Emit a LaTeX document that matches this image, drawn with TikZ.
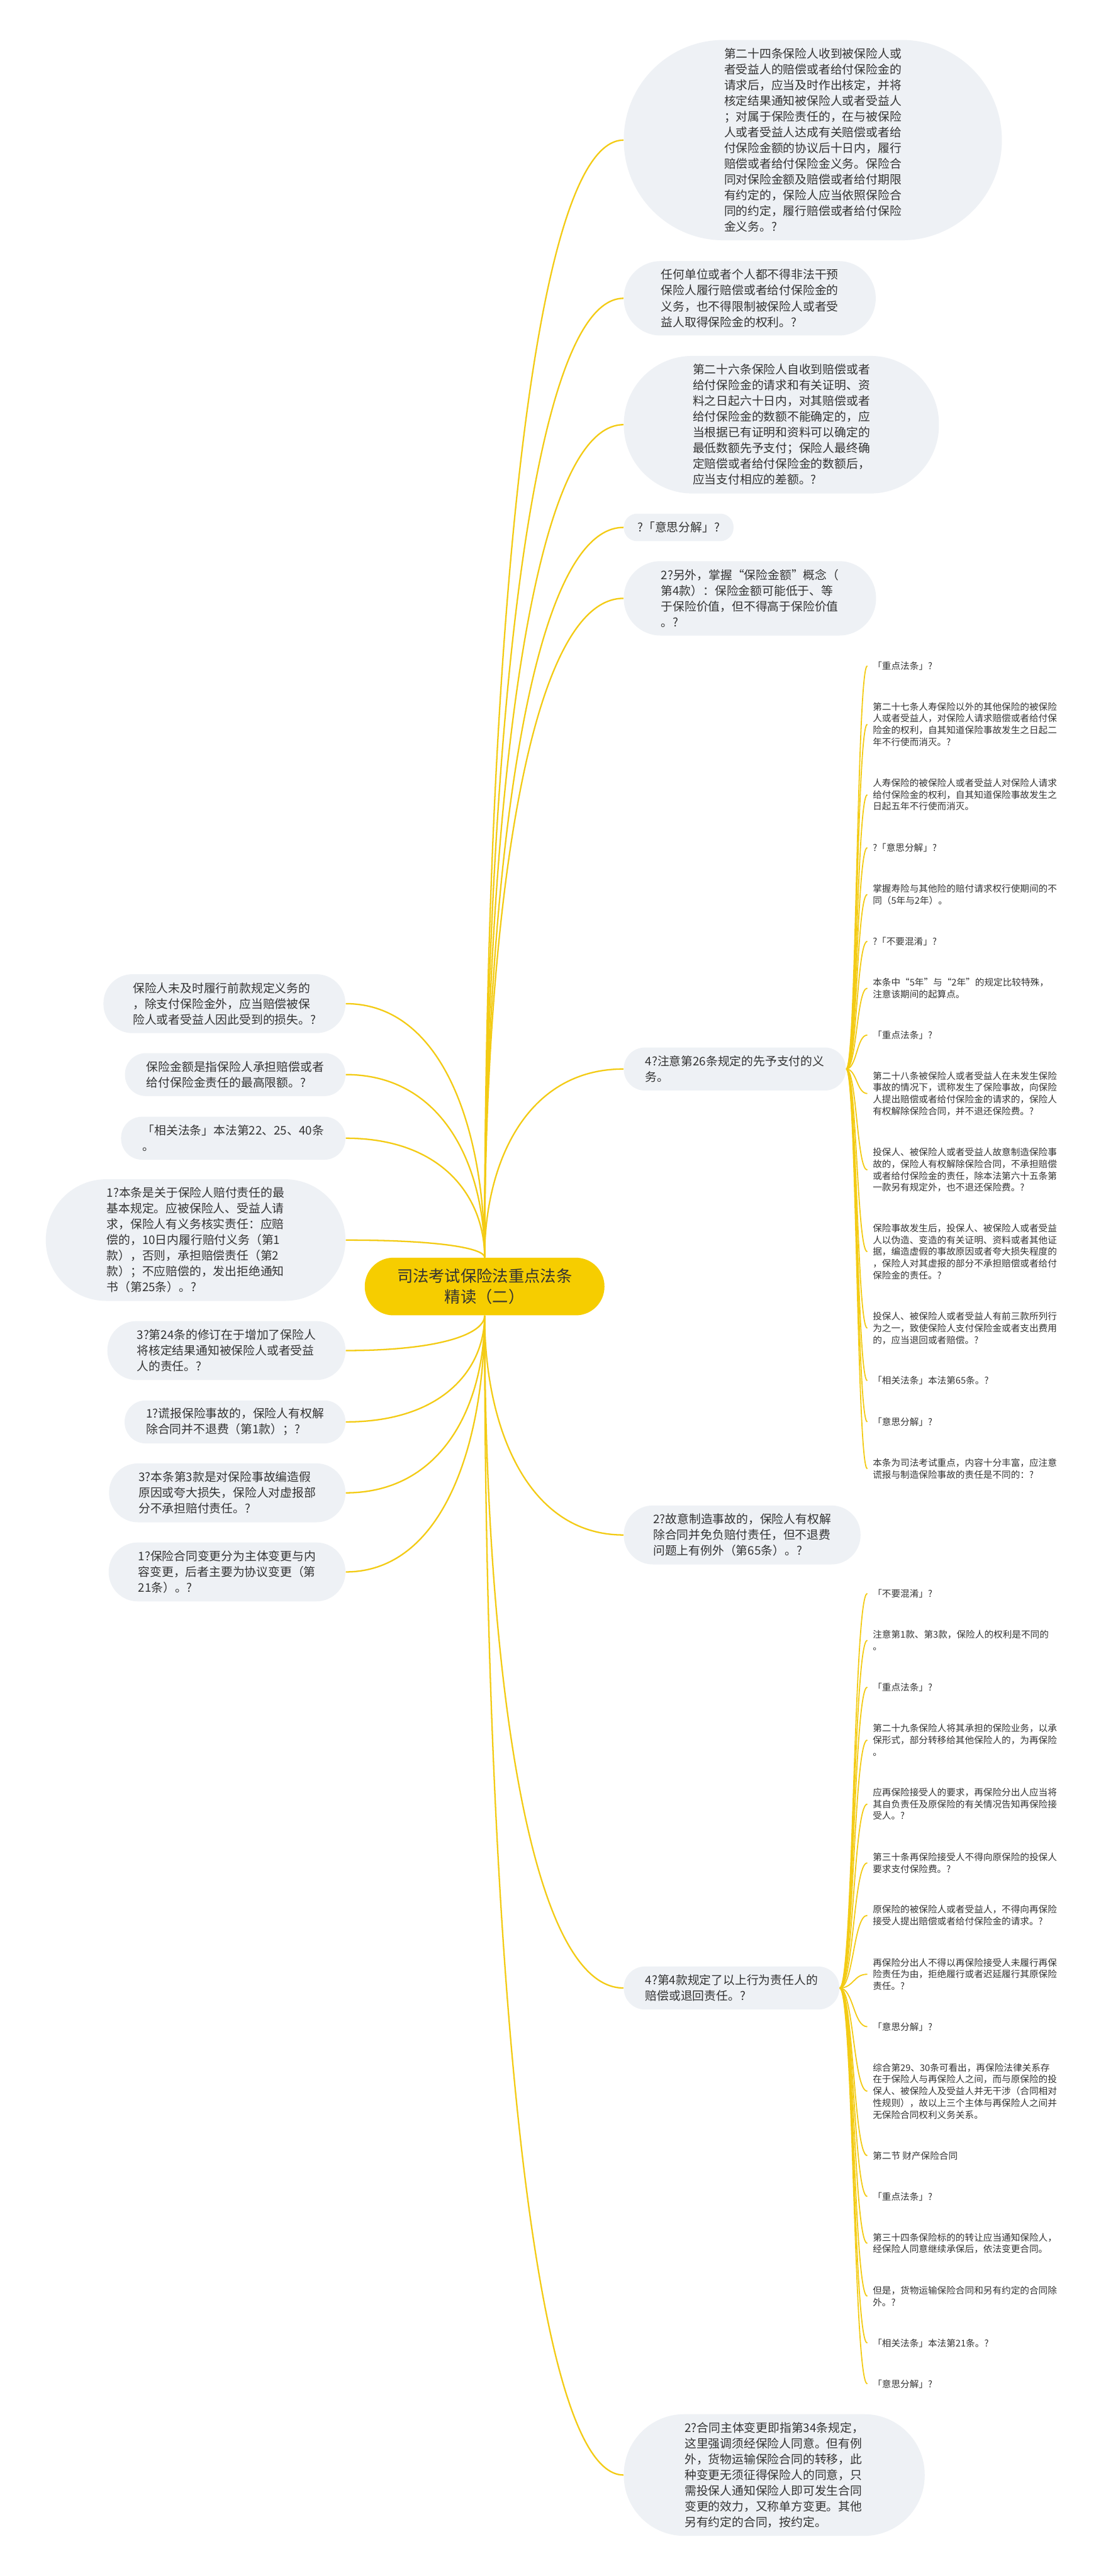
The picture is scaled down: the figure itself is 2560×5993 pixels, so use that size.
\documentclass[tikz,border=0pt]{standalone}
\usepackage{fontspec}
\setmainfont{Noto Sans CJK SC}
\usetikzlibrary{calc,backgrounds}
\definecolor{boxfill}{HTML}{EEF1F5}
\definecolor{mainyellow}{HTML}{F6CD00}
\definecolor{lineyellow}{HTML}{F3CB14}
\definecolor{txt}{HTML}{333333}
\tikzset{
  bigbox/.style={fill=boxfill, draw=none, align=left, text=txt, inner ysep=0pt,
    inner xsep=#1*0.005cm, minimum height=#1*0.01cm, rounded corners=#1*0.005cm-0.3pt,
    font=\fontsize{7.82pt}{10.41pt}\selectfont},
  rbox/.style={bigbox=#1, anchor=west},
  lbox/.style={bigbox=#1, anchor=east},
  centrebox/.style={fill=mainyellow, draw=none, align=center, text=txt, inner ysep=0pt,
    inner xsep=0.75cm, minimum height=1.34cm, rounded corners=0.665cm,
    font=\fontsize{10.53pt}{13.94pt}\selectfont},
  smalltext/.style={align=left, text=txt, inner xsep=0.12cm, inner ysep=0pt, anchor=west,
    font=\fontsize{6.09pt}{7.77pt}\selectfont},
  mline/.style={draw=lineyellow, line width=0.95pt},
  sline/.style={draw=lineyellow, line width=0.75pt}
}
\newcommand\mconn[2]{\draw[mline] (#1) .. controls ($(#1)!0.5!(#1 |- #2)$) and ($(#2)!0.7!(#2 -| #1)$) .. (#2);}
\newcommand\sconn[2]{\draw[sline] (#1.east) .. controls ($(#1.east)!0.5!(#1.east -| #2.west)$) and ($(#2.west)!0.5!(#2.west -| #1.east)$) .. (#2.west);}
\begin{document}
\begin{tikzpicture}[x=0.01cm,y=-0.01cm]
\useasboundingbox (0,0) rectangle (2560,5993);

% centre
\node[centrebox] (c) at (1127,2993) {司法考试保险法重点法条\\精读（二）};

% right level 1
\node[rbox=466] (r1) at (1450,326) {第二十四条保险人收到被保险人或\\者受益人的赔偿或者给付保险金的\\请求后，应当及时作出核定，并将\\核定结果通知被保险人或者受益人\\；对属于保险责任的，在与被保险\\人或者受益人达成有关赔偿或者给\\付保险金额的协议后十日内，履行\\赔偿或者给付保险金义务。保险合\\同对保险金额及赔偿或者给付期限\\有约定的，保险人应当依照保险合\\同的约定，履行赔偿或者给付保险\\金义务。?};
\node[rbox=173] (r2) at (1450,694) {任何单位或者个人都不得非法干预\\保险人履行赔偿或者给付保险金的\\义务，也不得限制被保险人或者受\\益人取得保险金的权利。?};
\node[rbox=320] (r3) at (1450,988) {第二十六条保险人自收到赔偿或者\\给付保险金的请求和有关证明、资\\料之日起六十日内，对其赔偿或者\\给付保险金的数额不能确定的，应\\当根据已有证明和资料可以确定的\\最低数额先予支付；保险人最终确\\定赔偿或者给付保险金的数额后，\\应当支付相应的差额。?};
\node[rbox=64] (r4) at (1450,1227) {?「意思分解」?};
\node[rbox=173] (r5) at (1450,1392) {2?另外，掌握“保险金额”概念（\\第4款）：保险金额可能低于、等\\于保险价值，但不得高于保险价值\\。?};
\node[rbox=100] (r6) at (1450,2487) {4?注意第26条规定的先予支付的义\\务。};
\node[rbox=137] (r7) at (1450,3571) {2?故意制造事故的，保险人有权解\\除合同并免负赔付责任，但不退费\\问题上有例外（第65条）。?};
\node[rbox=100] (r8) at (1450,4625) {4?第4款规定了以上行为责任人的\\赔偿或退回责任。?};
\node[rbox=283] (r9) at (1450,5758) {2?合同主体变更即指第34条规定，\\这里强调须经保险人同意。但有例\\外，货物运输保险合同的转移，此\\种变更无须征得保险人的同意，只\\需投保人通知保险人即可发生合同\\变更的效力，又称单方变更。其他\\另有约定的合同，按约定。};

% left level 1
\node[lbox=137] (l1) at (804,2335) {保险人未及时履行前款规定义务的\\，除支付保险金外，应当赔偿被保\\险人或者受益人因此受到的损失。?};
\node[lbox=100] (l2) at (804,2500) {保险金额是指保险人承担赔偿或者\\给付保险金责任的最高限额。?};
\node[lbox=100] (l3) at (804,2648) {「相关法条」本法第22、25、40条\\。};
\node[lbox=283] (l4) at (804,2885) {1?本条是关于保险人赔付责任的最\\基本规定。应被保险人、受益人请\\求，保险人有义务核实责任：应赔\\偿的，10日内履行赔付义务（第1\\款），否则，承担赔偿责任（第2\\款）；不应赔偿的，发出拒绝通知\\书（第25条）。?};
\node[lbox=137] (l5) at (804,3142) {3?第24条的修订在于增加了保险人\\将核定结果通知被保险人或者受益\\人的责任。?};
\node[lbox=100] (l6) at (804,3308) {1?谎报保险事故的，保险人有权解\\除合同并不退费（第1款）；?};
\node[lbox=137] (l7) at (804,3473) {3?本条第3款是对保险事故编造假\\原因或夸大损失，保险人对虚报部\\分不承担赔付责任。?};
\node[lbox=137] (l8) at (804,3657) {1?保险合同变更分为主体变更与内\\容变更，后者主要为协议变更（第\\21条）。?};

% children of r6
\node[smalltext] (s1) at (2017,1549) {「重点法条」?};
\node[smalltext] (s2) at (2017,1685) {第二十七条人寿保险以外的其他保险的被保险\\人或者受益人，对保险人请求赔偿或者给付保\\险金的权利，自其知道保险事故发生之日起二\\年不行使而消灭。?};
\node[smalltext] (s3) at (2017,1849) {人寿保险的被保险人或者受益人对保险人请求\\给付保险金的权利，自其知道保险事故发生之\\日起五年不行使而消灭。};
\node[smalltext] (s4) at (2017,1972) {?「意思分解」?};
\node[smalltext] (s5) at (2017,2081) {掌握寿险与其他险的赔付请求权行使期间的不\\同（5年与2年）。};
\node[smalltext] (s6) at (2017,2190) {?「不要混淆」?};
\node[smalltext] (s7) at (2017,2299) {本条中“5年”与“2年”的规定比较特殊，\\注意该期间的起算点。};
\node[smalltext] (s8) at (2017,2408) {「重点法条」?};
\node[smalltext] (s9) at (2017,2544) {第二十八条被保险人或者受益人在未发生保险\\事故的情况下，谎称发生了保险事故，向保险\\人提出赔偿或者给付保险金的请求的，保险人\\有权解除保险合同，并不退还保险费。?};
\node[smalltext] (s10) at (2017,2722) {投保人、被保险人或者受益人故意制造保险事\\故的，保险人有权解除保险合同，不承担赔偿\\或者给付保险金的责任，除本法第六十五条第\\一款另有规定外，也不退还保险费。?};
\node[smalltext] (s11) at (2017,2912) {保险事故发生后，投保人、被保险人或者受益\\人以伪造、变造的有关证明、资料或者其他证\\据，编造虚假的事故原因或者夸大损失程度的\\，保险人对其虚报的部分不承担赔偿或者给付\\保险金的责任。?};
\node[smalltext] (s12) at (2017,3090) {投保人、被保险人或者受益人有前三款所列行\\为之一，致使保险人支付保险金或者支出费用\\的，应当退回或者赔偿。?};
\node[smalltext] (s13) at (2017,3212) {「相关法条」本法第65条。?};
\node[smalltext] (s14) at (2017,3308) {「意思分解」?};
\node[smalltext] (s15) at (2017,3417) {本条为司法考试重点，内容十分丰富，应注意\\谎报与制造保险事故的责任是不同的：?};

% children of r8
\node[smalltext] (t1) at (2017,3707) {「不要混淆」?};
\node[smalltext] (t2) at (2017,3816) {注意第1款、第3款，保险人的权利是不同的\\。};
\node[smalltext] (t3) at (2017,3925) {「重点法条」?};
\node[smalltext] (t4) at (2017,4048) {第二十九条保险人将其承担的保险业务，以承\\保形式，部分转移给其他保险人的，为再保险\\。};
\node[smalltext] (t5) at (2017,4197) {应再保险接受人的要求，再保险分出人应当将\\其自负责任及原保险的有关情况告知再保险接\\受人。?};
\node[smalltext] (t6) at (2017,4334) {第三十条再保险接受人不得向原保险的投保人\\要求支付保险费。?};
\node[smalltext] (t7) at (2017,4456) {原保险的被保险人或者受益人，不得向再保险\\接受人提出赔偿或者给付保险金的请求。?};
\node[smalltext] (t8) at (2017,4593) {再保险分出人不得以再保险接受人未履行再保\\险责任为由，拒绝履行或者迟延履行其原保险\\责任。?};
\node[smalltext] (t9) at (2017,4715) {「意思分解」?};
\node[smalltext] (t10) at (2017,4865) {综合第29、30条可看出，再保险法律关系存\\在于保险人与再保险人之间，而与原保险的投\\保人、被保险人及受益人并无干涉（合同相对\\性规则），故以上三个主体与再保险人之间并\\无保险合同权利义务关系。};
\node[smalltext] (t11) at (2017,5015) {第二节 财产保险合同};
\node[smalltext] (t12) at (2017,5110) {「重点法条」?};
\node[smalltext] (t13) at (2017,5219) {第三十四条保险标的的转让应当通知保险人，\\经保险人同意继续承保后，依法变更合同。};
\node[smalltext] (t14) at (2017,5342) {但是，货物运输保险合同和另有约定的合同除\\外。?};
\node[smalltext] (t15) at (2017,5451) {「相关法条」本法第21条。?};
\node[smalltext] (t16) at (2017,5546) {「意思分解」?};

\begin{pgfonlayer}{background}
\fill[white] (0,0) rectangle (2560,5993);
\mconn{c.north}{r1.west}
\mconn{c.north}{r2.west}
\mconn{c.north}{r3.west}
\mconn{c.north}{r4.west}
\mconn{c.north}{r5.west}
\mconn{c.north}{r6.west}
\mconn{c.south}{r7.west}
\mconn{c.south}{r8.west}
\mconn{c.south}{r9.west}
\mconn{c.north}{l1.east}
\mconn{c.north}{l2.east}
\mconn{c.north}{l3.east}
\mconn{c.north}{l4.east}
\mconn{c.south}{l5.east}
\mconn{c.south}{l6.east}
\mconn{c.south}{l7.east}
\mconn{c.south}{l8.east}
\foreach \k in {1,...,15} {\sconn{r6}{s\k}}
\foreach \k in {1,...,16} {\sconn{r8}{t\k}}
\end{pgfonlayer}
\end{tikzpicture}
\end{document}
